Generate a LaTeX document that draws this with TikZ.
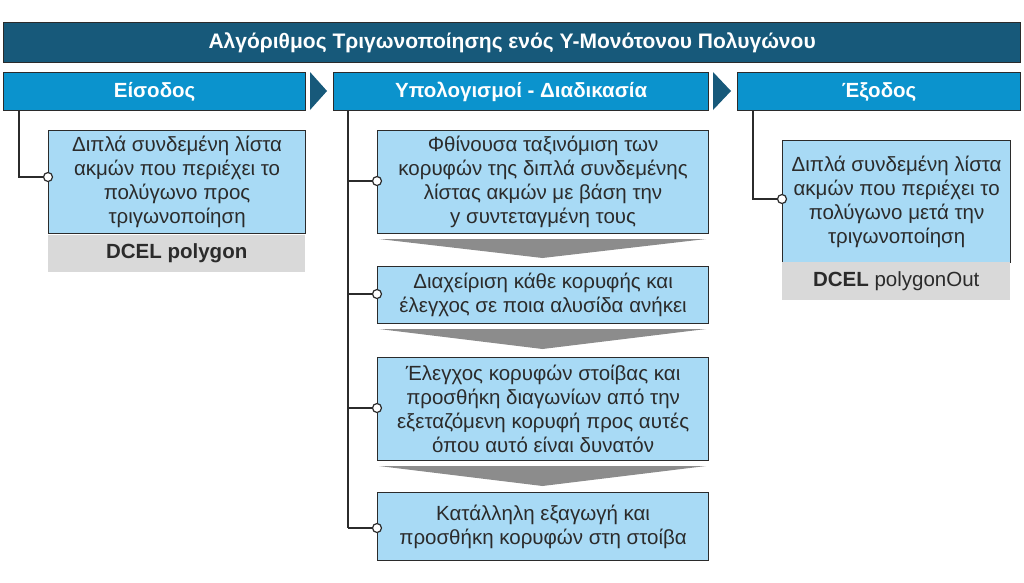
\documentclass[tikz,border=0pt]{standalone}
\usepackage{fontspec}
\setmainfont{Liberation Sans}
\usetikzlibrary{positioning}
\definecolor{titleblue}{HTML}{17597A}
\definecolor{headblue}{HTML}{0B93CD}
\definecolor{boxblue}{HTML}{A8DAF5}
\definecolor{linegray}{HTML}{2B2B2B}
\definecolor{tagGray}{HTML}{D9D9D9}
\definecolor{wedgeGray}{HTML}{8C8C8C}
\tikzset{
  titlebar/.style={draw=linegray,line width=1.2pt,fill=titleblue,text=white,font=\fontsize{21}{24}\selectfont\bfseries,anchor=north west,minimum height=40pt,inner sep=0pt},
  headbar/.style={draw=linegray,line width=1.2pt,fill=headblue,text=white,font=\fontsize{20.5}{24}\selectfont\bfseries,anchor=north west,minimum height=38pt,inner sep=0pt},
  stepbox/.style={draw=linegray,line width=1.2pt,fill=boxblue,text=linegray,font=\fontsize{20.5}{24}\selectfont,align=center,anchor=north west,inner sep=0pt},
  tagbox/.style={fill=tagGray,text=linegray,font=\fontsize{20.5}{24}\selectfont,anchor=north west,inner sep=0pt},
  wedge/.style={fill=wedgeGray},
  link/.style={draw=linegray,line width=1.2pt},
  knob/.style={circle,draw=linegray,line width=1.2pt,fill=white,inner sep=0pt,minimum size=9pt}
}
\begin{document}
\begin{tikzpicture}[x=1pt,y=-1pt]
\useasboundingbox (0,0) rectangle (1024,582);

\node[titlebar,minimum width=1017pt] (title) at (3,22) {Αλγόριθμος Τριγωνοποίησης ενός Υ-Μονότονου Πολυγώνου};

\node[headbar,minimum width=302pt] (inH) at (3,72) {Είσοδος};
\node[headbar,minimum width=375pt] (procH) at (333,72) {Υπολογισμοί - Διαδικασία};
\node[headbar,minimum width=283pt] (outH) at (737,72) {Έξοδος};

\fill[titleblue] (310,72) -- (327,91) -- (310,110) -- cycle;
\fill[titleblue] (713,72) -- (731,91) -- (713,110) -- cycle;

% input
\node[stepbox,minimum width=257pt,minimum height=103pt] (inBox) at (48,130) {Διπλά συνδεμένη λίστα\\ακμών που περιέχει το\\πολύγωνο προς\\τριγωνοποίηση};
\node[tagbox,minimum width=257pt,minimum height=37pt] (inTag) at (48,235) {\bfseries DCEL polygon};
\coordinate (inTop) at (19,110);
\node[knob] (inK) at (48,177) {};
\draw[link] (inTop) |- (inK);

% process
\node[stepbox,minimum width=331pt,minimum height=103pt] (s1) at (377,130) {Φθίνουσα ταξινόμιση των\\κορυφών της διπλά συνδεμένης\\λίστας ακμών με βάση την\\y συντεταγμένη τους};
\node[stepbox,minimum width=331pt,minimum height=57pt] (s2) at (377,266) {Διαχείριση κάθε κορυφής και\\έλεγχος σε ποια αλυσίδα ανήκει};
\node[stepbox,minimum width=331pt,minimum height=103pt] (s3) at (377,357) {Έλεγχος κορυφών στοίβας και\\προσθήκη διαγωνίων από την\\εξεταζόμενη κορυφή προς αυτές\\όπου αυτό είναι δυνατόν};
\node[stepbox,minimum width=331pt,minimum height=68pt] (s4) at (377,492) {Κατάλληλη εξαγωγή και\\προσθήκη κορυφών στη στοίβα};

\foreach \ya/\yb in {239/258,329/349,466/486}
  \fill[wedge] (379,\ya) -- (706,\ya) -- (542.5,\yb) -- cycle;

\coordinate (procTop) at (348,110);
\coordinate (procBot) at (348,528);
\draw[link] (procTop) -- (procBot);
\foreach \s/\y in {s1/181,s2/294,s3/408,s4/528}{
  \node[knob] (k\s) at (377,\y) {};
  \draw[link] (348,\y) -- (k\s);
}

% output
\node[stepbox,minimum width=228pt,minimum height=122pt] (outBox) at (782,140) {Διπλά συνδεμένη λίστα\\ακμών που περιέχει το\\πολύγωνο μετά την\\τριγωνοποίηση};
\node[tagbox,minimum width=228pt,minimum height=38pt] (outTag) at (782,262) {\bfseries DCEL\mdseries{} polygonOut};
\coordinate (outTop) at (753,110);
\node[knob] (outK) at (782,199) {};
\draw[link] (outTop) |- (outK);
\end{tikzpicture}
\end{document}
